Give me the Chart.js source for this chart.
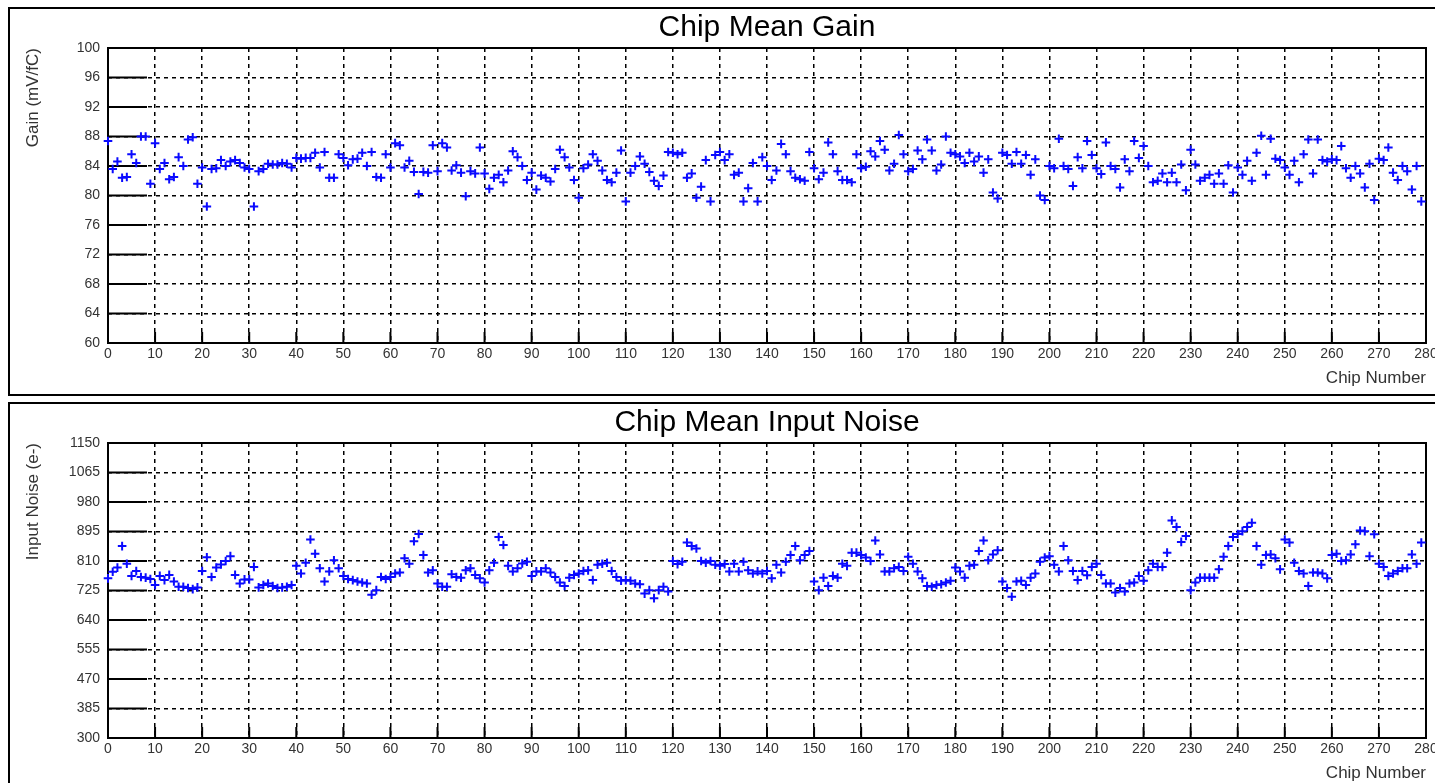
<!DOCTYPE html>
<html>
<head>
<meta charset="utf-8">
<script src="https://cdn.jsdelivr.net/npm/chart.js@4.4.1/dist/chart.umd.min.js"></script>
<style>
  html, body { margin: 0; padding: 0; background: #fff; overflow: hidden; width: 1435px; height: 783px; }
  .box { position: absolute; left: 8px; width: 1440px; border: 2px solid #000; box-sizing: border-box; }
  canvas { position: absolute; left: 0; }
</style>
</head>
<body>
<div class="box" style="top:7px;height:389px"></div>
<div class="box" style="top:402px;height:400px"></div>
<canvas id="gainChart" width="1435" height="395" style="top:0"></canvas>
<canvas id="noiseChart" width="1435" height="395" style="top:395px"></canvas>
<script>
// chip number axis
const chipTicks = [0, 10, 20, 30, 40, 50, 60, 70, 80, 90, 100, 110, 120, 130, 140,
  150, 160, 170, 180, 190, 200, 210, 220, 230, 240, 250, 260, 270, 280];

// Chip Mean Gain (mV/fC), chips 0..279
const gainTicks = [60, 64, 68, 72, 76, 80, 84, 88, 92, 96, 100];
const gainValues = [
  87.4, 83.6, 84.6, 82.4, 82.5, 85.6, 84.4, 88.0, 88.0, 81.6,
  87.1, 83.6, 84.4, 82.2, 82.5, 85.2, 84.0, 87.6, 87.9, 81.6,
  83.8, 78.5, 83.6, 83.7, 84.8, 84.0, 84.6, 84.8, 84.4, 83.8,
  83.6, 78.5, 83.3, 83.6, 84.3, 84.2, 84.2, 84.4, 84.3, 83.8,
  85.1, 85.0, 85.1, 85.1, 85.8, 83.8, 85.9, 82.4, 82.4, 85.6,
  85.1, 84.1, 84.9, 85.0, 85.8, 84.0, 85.9, 82.5, 82.4, 85.6,
  83.8, 87.1, 86.8, 83.8, 84.7, 83.2, 80.2, 83.2, 83.1, 86.8,
  83.3, 87.1, 86.5, 83.4, 84.1, 83.1, 79.9, 83.3, 83.0, 86.5,
  83.0, 80.9, 82.4, 82.8, 81.8, 83.4, 86.0, 85.2, 84.0, 82.1,
  83.1, 80.8, 82.7, 82.4, 81.9, 83.6, 86.2, 85.2, 83.8, 82.1,
  79.7, 83.7, 84.2, 85.6, 84.7, 83.4, 82.1, 81.8, 83.1, 86.1,
  79.2, 83.1, 84.0, 85.3, 84.3, 83.2, 82.0, 81.3, 82.7, 85.9,
  85.8, 85.6, 85.8, 82.4, 83.0, 79.7, 81.2, 84.8, 79.2, 85.5,
  85.9, 84.8, 85.6, 82.8, 83.1, 79.2, 81.0, 84.4, 79.2, 85.2,
  84.0, 82.1, 83.4, 87.0, 85.6, 83.3, 82.4, 82.2, 82.0, 85.9,
  83.7, 82.2, 83.1, 87.2, 85.6, 83.3, 82.1, 82.1, 81.8, 85.6,
  83.7, 83.9, 86.0, 85.3, 87.4, 86.2, 83.4, 84.3, 88.2, 85.6,
  83.3, 83.6, 86.1, 84.9, 87.6, 86.1, 83.4, 84.2, 88.0, 85.8,
  85.6, 85.3, 84.4, 85.8, 84.6, 85.3, 83.1, 84.9, 80.4, 79.6,
  85.8, 85.5, 84.3, 85.9, 84.3, 85.5, 82.8, 84.9, 80.0, 79.4,
  84.0, 83.7, 87.7, 84.0, 83.6, 81.3, 85.2, 83.7, 87.4, 85.5,
  83.7, 82.9, 87.2, 84.0, 83.6, 81.1, 84.9, 83.3, 87.4, 85.1,
  86.7, 84.0, 81.8, 82.0, 83.0, 81.8, 83.1, 81.8, 84.2, 80.7,
  86.2, 84.2, 82.0, 82.4, 82.8, 81.6, 83.0, 81.6, 84.1, 80.4,
  83.8, 82.8, 84.7, 82.0, 85.8, 88.1, 82.8, 87.7, 85.0, 84.8,
  83.8, 82.8, 84.7, 81.8, 85.6, 87.6, 83.0, 87.6, 84.8, 84.6,
  84.9, 84.8, 86.7, 83.7, 82.4, 84.0, 83.0, 81.1, 84.3, 79.4,
  85.0, 84.8, 86.5, 83.1, 82.1, 84.0, 83.3, 80.8, 84.0, 79.2
];

// Chip Mean Input Noise (e-), chips 0..279
const noiseTicks = [300, 385, 470, 555, 640, 725, 810, 895, 980, 1065, 1150];
const noiseValues = [
  760, 779, 791, 853, 802, 767, 781, 764, 762, 758,
  741, 767, 755, 770, 751, 736, 736, 732, 729, 734,
  781, 821, 764, 791, 800, 810, 824, 770, 745, 757,
  757, 793, 734, 741, 745, 738, 732, 734, 736, 741,
  796, 774, 805, 872, 831, 789, 751, 780, 812, 789,
  767, 758, 755, 751, 748, 745, 713, 726, 764, 758,
  764, 774, 777, 818, 802, 867, 888, 827, 777, 783,
  745, 736, 736, 772, 764, 762, 783, 789, 770, 760,
  748, 783, 805, 879, 856, 796, 780, 789, 803, 808,
  767, 780, 780, 789, 777, 764, 748, 738, 762, 770,
  774, 781, 783, 755, 799, 802, 805, 781, 764, 753,
  755, 753, 745, 743, 716, 726, 703, 726, 736, 722,
  810, 801, 808, 863, 853, 846, 810, 805, 810, 799,
  796, 801, 780, 802, 780, 808, 783, 774, 780, 774,
  781, 760, 799, 777, 808, 827, 853, 812, 827, 839,
  751, 726, 762, 738, 767, 762, 802, 796, 834, 834,
  827, 820, 810, 869, 829, 780, 780, 789, 793, 781,
  822, 802, 780, 760, 738, 736, 741, 743, 748, 753,
  791, 780, 762, 796, 799, 839, 869, 812, 829, 841,
  751, 732, 707, 751, 753, 741, 762, 774, 808, 820,
  824, 799, 780, 853, 812, 781, 755, 781, 769, 793,
  802, 770, 745, 745, 719, 732, 722, 745, 748, 767,
  753, 783, 802, 793, 793, 834, 927, 908, 865, 882,
  726, 748, 762, 762, 762, 762, 786, 822, 853, 879,
  888, 896, 908, 920, 853, 799, 827, 829, 818, 786,
  872, 863, 805, 781, 774, 738, 777, 777, 774, 760,
  827, 831, 810, 812, 829, 858, 898, 896, 824, 887,
  802, 793, 767, 774, 781, 789, 789, 829, 802, 863
];

const FONT = "'Liberation Sans', Arial, Helvetica, sans-serif";

// solid frame round the plot, plus the long solid tick marks
const frameTicks = {
  id: 'frameTicks',
  beforeDatasetsDraw(chart) {
    const { ctx, chartArea: a, scales: { x, y } } = chart;
    ctx.save();
    ctx.setLineDash([]);
    ctx.strokeStyle = '#000';
    ctx.lineWidth = 2;
    ctx.beginPath();
    y.ticks.forEach(t => {
      const py = y.getPixelForValue(t.value);
      ctx.moveTo(a.left, py);
      ctx.lineTo(a.left + 39, py);
    });
    x.ticks.forEach(t => {
      const px = x.getPixelForValue(t.value);
      ctx.moveTo(px, a.bottom);
      ctx.lineTo(px, a.bottom - 11);
    });
    ctx.stroke();
    ctx.strokeRect(a.left, a.top, a.right - a.left, a.bottom - a.top);
    ctx.restore();
  }
};

function makeChart(id, values, yTicks, title, yTitle) {
  const grid = { color: '#000', lineWidth: 1.5, drawTicks: false };
  const border = { display: false, dash: [4, 4] };
  const tickFont = { size: 14, family: FONT };
  const titleFont = { size: 17, family: FONT };

  return new Chart(document.getElementById(id), {
    type: 'scatter',
    data: {
      datasets: [{
        data: values.map((v, i) => ({ x: i, y: v })),
        pointStyle: 'cross',
        pointRadius: 4.3,
        pointBorderWidth: 2,
        borderColor: '#0a0aff',
        backgroundColor: '#0a0aff',
        showLine: false,
        clip: false
      }]
    },
    options: {
      responsive: false,
      animation: false,
      events: [],
      layout: { padding: { left: 0, right: 9, top: 0, bottom: 0 } },
      plugins: {
        legend: { display: false },
        tooltip: { enabled: false },
        title: {
          display: true,
          text: title,
          fullSize: false,
          color: '#000',
          font: { size: 30, family: FONT, weight: 'normal', lineHeight: 1.2 },
          padding: { top: 10, bottom: 2 }
        }
      },
      scales: {
        x: {
          type: 'linear',
          min: 0,
          max: 280,
          afterBuildTicks: s => { s.ticks = chipTicks.map(v => ({ value: v })); },
          afterFit: s => { s.height = 52; s.paddingLeft = 0; s.paddingRight = 0; },
          grid, border,
          ticks: { padding: 3, maxRotation: 0, autoSkip: false, color: '#333', font: tickFont,
            callback: v => String(v) },
          title: {
            display: true, text: 'Chip Number', align: 'end', color: '#333',
            font: titleFont, padding: { top: 0, bottom: 6 }
          }
        },
        y: {
          min: yTicks[0],
          max: yTicks[yTicks.length - 1],
          afterBuildTicks: s => { s.ticks = yTicks.map(v => ({ value: v })); },
          afterFit: s => { s.width = 108; s.paddingTop = 0; s.paddingBottom = 0; },
          grid, border,
          ticks: { padding: 8, color: '#333', font: tickFont, callback: v => String(v) },
          title: {
            display: true, text: yTitle, align: 'end', color: '#333',
            font: titleFont, padding: { top: 23, bottom: 0 }
          }
        }
      }
    },
    plugins: [frameTicks]
  });
}

makeChart('gainChart', gainValues, gainTicks, 'Chip Mean Gain', 'Gain (mV/fC)');
makeChart('noiseChart', noiseValues, noiseTicks, 'Chip Mean Input Noise', 'Input Noise (e-)');
</script>
</body>
</html>
